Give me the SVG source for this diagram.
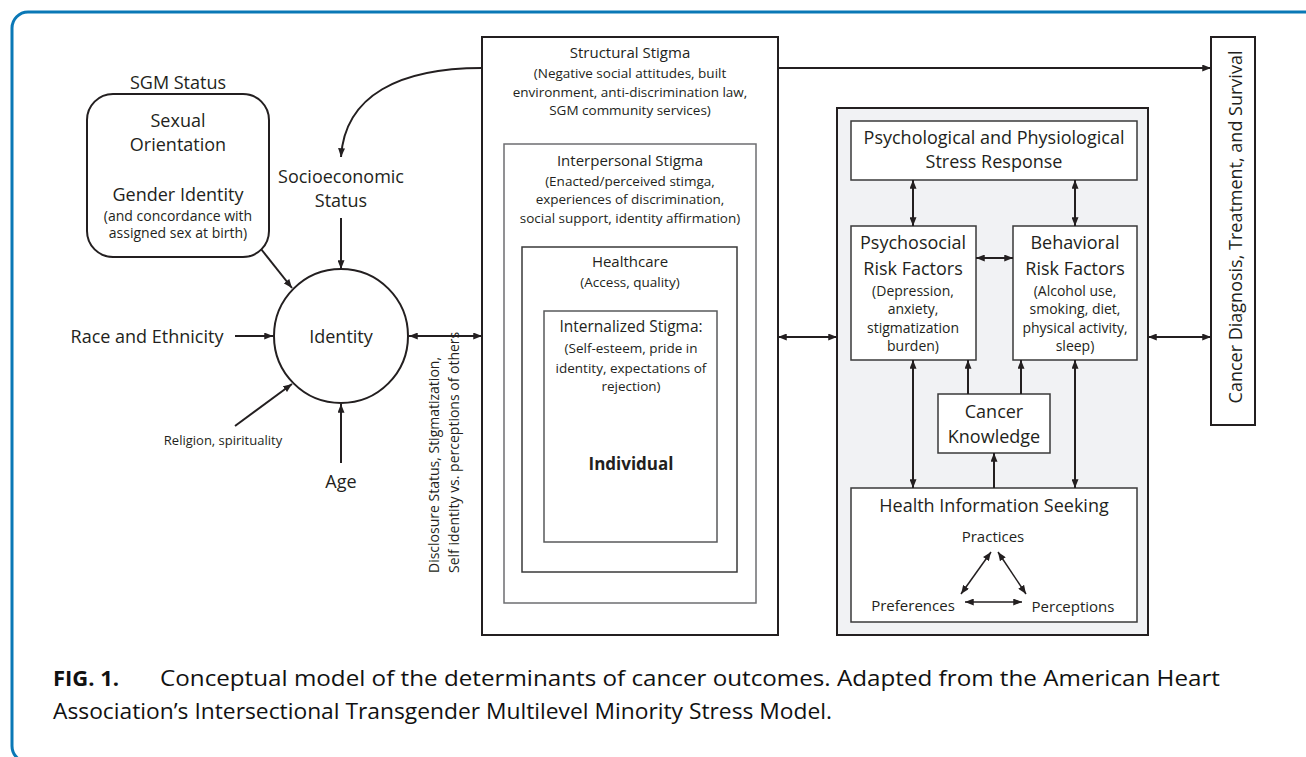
<svg xmlns="http://www.w3.org/2000/svg" width="1306" height="757" viewBox="0 0 1306 757">
<defs>
<marker id="ah" viewBox="0 0 10 8" refX="10" refY="4" markerWidth="9" markerHeight="7" markerUnits="userSpaceOnUse" orient="auto-start-reverse">
<path d="M0,0 L10,4 L0,8 z" fill="#231f20"/>
</marker>
<style>
text{font-family:"Open Sans","Noto Sans","Liberation Sans",sans-serif;fill:#231f20;text-anchor:middle}
.t18{font-size:18px}
.t15{font-size:15px}
.t14{font-size:14px}
.t13{font-size:13.5px}
.box{fill:#fff;stroke:#231f20;stroke-width:2}
.thin{fill:#fff;stroke-width:1.5}
.c{fill:none;stroke:#231f20;stroke-width:2}
.a1{marker-end:url(#ah)}
.a2{marker-start:url(#ah);marker-end:url(#ah)}
.cap{font-size:22px;text-anchor:start;fill:#111}
</style>
</defs>
<rect width="1306" height="757" fill="#fff"/>
<rect x="12" y="12" width="1400" height="750" rx="16" fill="none" stroke="#0a78b6" stroke-width="3"/>

<g id="sgm">
<text class="t18" x="178" y="89">SGM Status</text>
<rect x="87" y="94" width="182" height="163" rx="26" class="box"/>
<text class="t18" x="178" y="127">Sexual</text>
<text class="t18" x="178" y="151">Orientation</text>
<text class="t18" x="178" y="201">Gender Identity</text>
<text class="t14" x="178" y="221">(and concordance with</text>
<text class="t14" x="178" y="238">assigned sex at birth)</text>
</g>
<g id="ses"><text class="t18" x="341" y="183">Socioeconomic</text><text class="t18" x="341" y="207">Status</text></g>
<g id="race"><text class="t18" x="147" y="343">Race and Ethnicity</text></g>
<g id="religion"><text x="223" y="445" style="font-size:13px">Religion, spirituality</text></g>
<g id="age"><text class="t18" x="341" y="488">Age</text></g>
<g id="identity">
<circle cx="341" cy="336" r="67" fill="#fff" stroke="#231f20" stroke-width="2"/>
<text class="t18" x="341" y="343">Identity</text>
</g>
<g id="disclosure">
<text class="t14" transform="translate(439,573) rotate(-90)" style="text-anchor:start">Disclosure Status, Stigmatization,</text>
<text class="t14" transform="translate(459,573) rotate(-90)" style="text-anchor:start">Self identity vs. perceptions of others</text>
</g>

<g id="structural">
<rect x="482" y="37" width="296" height="598" class="box"/>
<text class="t15" x="630" y="58">Structural Stigma</text>
<text class="t13" x="630" y="78">(Negative social attitudes, built</text>
<text class="t13" x="630" y="97">environment, anti-discrimination law,</text>
<text class="t13" x="630" y="115">SGM community services)</text>
</g>
<g id="interpersonal">
<rect x="504" y="144" width="252" height="459" class="thin" stroke="#6d6e71"/>
<text class="t15" x="630" y="166">Interpersonal Stigma</text>
<text class="t13" x="630" y="186">(Enacted/perceived stimga,</text>
<text class="t13" x="630" y="204">experiences of discrimination,</text>
<text class="t13" x="630" y="223">social support, identity affirmation)</text>
</g>
<g id="healthcare">
<rect x="522" y="247" width="215" height="325" class="thin" stroke="#3a3a3a"/>
<text class="t15" x="630" y="267">Healthcare</text>
<text class="t13" x="630" y="287">(Access, quality)</text>
</g>
<g id="internalized">
<rect x="544" y="311" width="173" height="231" class="thin" stroke="#58595b"/>
<text x="631" y="332" style="font-size:15.5px">Internalized Stigma:</text>
<text class="t13" x="631" y="353">(Self-esteem, pride in</text>
<text class="t13" x="631" y="373">identity, expectations of</text>
<text class="t13" x="631" y="391">rejection)</text>
<text x="631" y="470" style="font-size:17px;font-weight:bold">Individual</text>
</g>

<g id="mediators">
<rect x="837" y="108" width="311" height="527" fill="#f1f2f4" stroke="#231f20" stroke-width="2"/>
</g>
<g id="stress">
<rect x="851" y="121" width="286" height="59" class="thin" stroke="#3a3a3a"/>
<text class="t18" x="994" y="144">Psychological and Physiological</text>
<text class="t18" x="994" y="168">Stress Response</text>
</g>
<g id="psychosocial">
<rect x="851" y="226" width="125" height="134" class="thin" stroke="#3a3a3a"/>
<text class="t18" x="913" y="249">Psychosocial</text>
<text class="t18" x="913" y="275">Risk Factors</text>
<text class="t14" x="913" y="296">(Depression,</text>
<text class="t14" x="913" y="314">anxiety,</text>
<text class="t14" x="913" y="333">stigmatization</text>
<text class="t14" x="913" y="351">burden)</text>
</g>
<g id="behavioral">
<rect x="1013" y="226" width="124" height="134" class="thin" stroke="#3a3a3a"/>
<text class="t18" x="1075" y="249">Behavioral</text>
<text class="t18" x="1075" y="275">Risk Factors</text>
<text class="t14" x="1075" y="296">(Alcohol use,</text>
<text class="t14" x="1075" y="314">smoking, diet,</text>
<text class="t14" x="1075" y="333">physical activity,</text>
<text class="t14" x="1075" y="351">sleep)</text>
</g>
<g id="knowledge">
<rect x="938" y="394" width="112" height="59" class="thin" stroke="#3a3a3a"/>
<text class="t18" x="994" y="418">Cancer</text>
<text class="t18" x="994" y="443">Knowledge</text>
</g>
<g id="his">
<rect x="851" y="488" width="286" height="134" class="thin" stroke="#3a3a3a"/>
<text class="t18" x="994" y="512">Health Information Seeking</text>
<text class="t15" x="993" y="542">Practices</text>
<text class="t15" x="913" y="611">Preferences</text>
<text class="t15" x="1073" y="612">Perceptions</text>
</g>
<g id="outcome">
<rect x="1211" y="37" width="44" height="388" class="box"/>
<text class="t18" transform="translate(1242,227) rotate(-90)">Cancer Diagnosis, Treatment, and Survival</text>
</g>

<g id="connectors">
<path class="c a1" d="M482,68 C400,68 345,95 341,157"/>
<line class="c a1" x1="341" y1="218" x2="341" y2="269"/>
<line class="c a1" x1="261" y1="249" x2="292" y2="288"/>
<line class="c a1" x1="235" y1="336" x2="273" y2="336"/>
<line class="c a1" x1="235" y1="426" x2="292" y2="384"/>
<line class="c a1" x1="341" y1="463" x2="341" y2="404"/>
<line class="c a2" x1="409" y1="336" x2="482" y2="336"/>
<line class="c a2" x1="778" y1="337" x2="837" y2="337"/>
<line class="c a1" x1="778" y1="68" x2="1211" y2="68"/>
<line class="c a2" x1="1148" y1="337" x2="1211" y2="337"/>
<line class="c a2" x1="913" y1="180" x2="913" y2="226"/>
<line class="c a2" x1="1075" y1="180" x2="1075" y2="226"/>
<line class="c a2" x1="976" y1="258" x2="1013" y2="258"/>
<line class="c a2" x1="913" y1="360" x2="913" y2="488"/>
<line class="c a2" x1="1075" y1="360" x2="1075" y2="488"/>
<line class="c a1" x1="968" y1="394" x2="968" y2="360"/>
<line class="c a1" x1="1021" y1="394" x2="1021" y2="360"/>
<line class="c a1" x1="994" y1="488" x2="994" y2="453"/>
<line class="c a2" style="stroke-width:1.5" x1="991" y1="552" x2="961" y2="594"/>
<line class="c a2" style="stroke-width:1.5" x1="998" y1="552" x2="1026" y2="594"/>
<line class="c a2" style="stroke-width:1.5" x1="965" y1="602" x2="1022" y2="602"/>
</g>

<g id="caption">
<text class="cap" x="53" y="686" style="font-weight:bold">FIG. 1.</text>
<text class="cap" x="160" y="686" textLength="1060" lengthAdjust="spacingAndGlyphs">Conceptual model of the determinants of cancer outcomes. Adapted from the American Heart</text>
<text class="cap" x="53" y="719" textLength="779" lengthAdjust="spacingAndGlyphs">Association’s Intersectional Transgender Multilevel Minority Stress Model.</text>
</g>
</svg>
